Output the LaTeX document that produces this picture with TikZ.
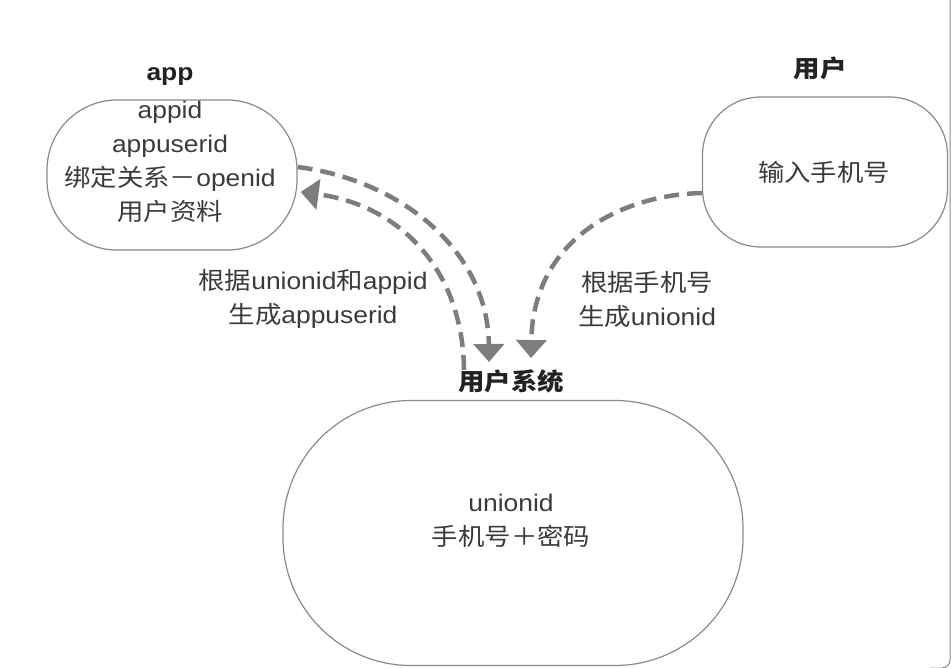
\documentclass[tikz,border=0pt]{standalone}
\usepackage{fontspec}
\setmainfont{Liberation Sans}[FakeStretch=1.1]
\newfontfamily\cjk{Noto Sans CJK SC}[FakeStretch=1.1]
\usepackage{tikz}
\usetikzlibrary{arrows.meta}
\definecolor{boxgray}{HTML}{8A8A8A}
\definecolor{arrowgray}{HTML}{7D7D7D}
\definecolor{txtgray}{HTML}{3A3A3A}
\definecolor{titlegray}{HTML}{222222}

\begin{document}
\begin{tikzpicture}[
x=1pt,y=-1pt,
MyBox/.style={draw=boxgray,line width=1.2pt},
MyText/.style={text=txtgray,font=\fontsize{24}{34}\selectfont,align=center,inner sep=0pt},
MyTitle/.style={text=titlegray,font=\fontsize{24}{34}\selectfont\bfseries,inner sep=0pt},
MyArrow/.style={draw=arrowgray,line width=4.5pt,dash pattern=on 15pt off 8pt,
  -{Triangle[length=18pt,width=30pt]}}
]
\useasboundingbox (0,0) rectangle (952,668);

% window frame on the right
\draw[boxgray,line width=1pt,rounded corners=8pt] (950,0) -- (950,668) -- (930,668);

% the three boxes
\node[MyBox,rounded corners=70pt,minimum width=250pt,minimum height=150pt] (app) at (172,175) {};
\node[MyBox,rounded corners=58pt,minimum width=245pt,minimum height=150pt] (user) at (825,172) {};
\node[MyBox,rounded corners=128pt,minimum width=460pt,minimum height=265pt] (sys) at (513,533) {};

% titles
\node[MyTitle] (appTitle) at (170,77) {app};
\node[MyTitle] (userTitle) at (820,68) {\cjk 用户};
\node[MyTitle] (sysTitle) at (511,381) {\cjk 用户系统};

% texts in the boxes
\node[MyText] (appText) at (170,162) {appid\\appuserid\\{\cjk 绑定关系－}openid\\{\cjk 用户资料}};
\node[MyText] (userText) at (824,172) {\cjk 输入手机号};
\node[MyText] (sysText) at (511,521) {unionid\\{\cjk 手机号＋密码}};

% texts on the arrows
\node[MyText] (appLabel) at (313,299) {{\cjk 根据}unionid{\cjk 和}appid\\{\cjk 生成}appuserid};
\node[MyText] (userLabel) at (647,299) {{\cjk 根据手机号}\\{\cjk 生成}unionid};

% ends of the arrows at the system
\coordinate (sysInA) at (489,362);
\coordinate (sysOut) at (464,370);
\coordinate (sysInB) at (531,358);

\draw[MyArrow] ([yshift=8pt]app.east) .. controls (400,180) and (488,250) .. (sysInA);
\draw[MyArrow] (sysOut) .. controls (463,270) and (400,205) .. ([yshift=-17pt,xshift=3pt]app.east);
\draw[MyArrow] ([yshift=-21pt]user.west) .. controls (620,195) and (533,240) .. (sysInB);

\end{tikzpicture}
\end{document}
